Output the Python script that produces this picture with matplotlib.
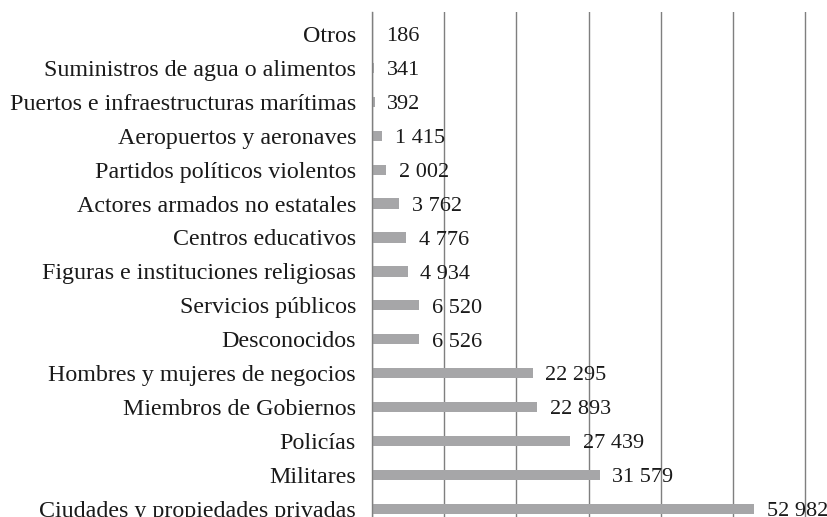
import matplotlib.pyplot as plt

categorias = ['Ciudades y propiedades privadas', 'Militares', 'Policías',
              'Miembros de Gobiernos', 'Hombres y mujeres de negocios',
              'Desconocidos', 'Servicios públicos',
              'Figuras e instituciones religiosas', 'Centros educativos',
              'Actores armados no estatales', 'Partidos políticos violentos',
              'Aeropuertos y aeronaves', 'Puertos e infraestructuras marítimas',
              'Suministros de agua o alimentos', 'Otros']
valores = [52982, 31579, 27439, 22893, 22295, 6526, 6520, 4934, 4776,
           3762, 2002, 1415, 392, 341, 186]

plt.rcParams['font.family'] = ['Liberation Serif', 'DejaVu Serif']

fig = plt.figure(figsize=(8.27, 5.17), dpi=100)
ax = fig.add_axes([0.4498, -0.027, 0.5255, 1.004])

pos = list(range(len(categorias)))
ax.barh(pos, valores, height=0.3, color='#a6a6a8', zorder=2)

for p, v in zip(pos, valores):
    txt = '{:,}'.format(v).replace(',', ' ')
    ax.annotate(txt, (v, p), xytext=(9, -2), textcoords='offset points',
                va='center', ha='left', fontsize=16, color='#1a1a1a', zorder=3)

ax.set_xlim(0, 60200)
ax.set_ylim(-0.65, 14.65)
ax.set_xticks(range(0, 60001, 10000))
ax.xaxis.grid(True, color='#7f7f7f', linewidth=1.0, zorder=1)
ax.tick_params(axis='x', bottom=False, labelbottom=False)
ax.set_yticks(pos)
ax.set_yticklabels(categorias, fontsize=17.25, color='#1a1a1a')
ax.tick_params(axis='y', length=0, pad=11.5)

for s in ['top', 'right', 'bottom']:
    ax.spines[s].set_visible(False)
ax.spines['left'].set_color('#7f7f7f')
ax.spines['left'].set_linewidth(1.0)

fig.savefig('out.png', dpi=100)
